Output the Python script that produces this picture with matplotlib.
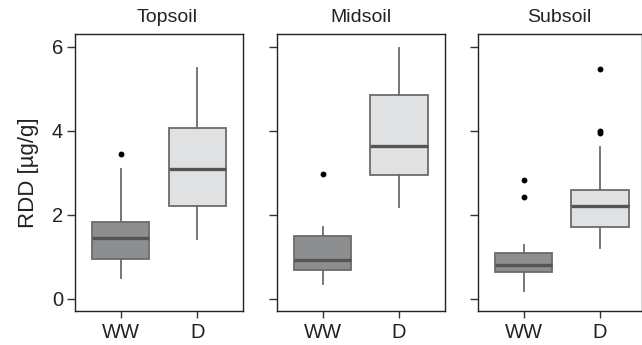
import matplotlib
matplotlib.use("Agg")
import matplotlib.pyplot as plt

plt.rcParams["font.family"] = ["Liberation Sans", "DejaVu Sans"]

panels = ["Topsoil", "Midsoil", "Subsoil"]
groups = ["WW", "D"]

# box stats per panel: [WW, D] -> (whislo, q1, med, q3, whishi)
topsoil = [(0.49, 0.94, 1.45, 1.82, 3.08), (1.42, 2.21, 3.08, 4.06, 5.49)]
midsoil = [(0.35, 0.68, 0.92, 1.49, 1.71), (2.18, 2.95, 3.64, 4.86, 5.96)]
subsoil = [(0.18, 0.64, 0.80, 1.08, 1.28), (1.20, 1.71, 2.21, 2.60, 3.62)]

topsoil_out = [[3.45], []]
midsoil_out = [[2.96], []]
subsoil_out = [[2.43, 2.83], [3.94, 4.00, 5.46]]

stats_all = [topsoil, midsoil, subsoil]
outs_all = [topsoil_out, midsoil_out, subsoil_out]

fills = ["#8d8e90", "#e0e1e3"]
edge = "#6b6b6b"

W, H = 642, 345
fig = plt.figure(figsize=(W / 100, H / 100), dpi=100)

lefts = [75, 276.7, 477.7]
widths = [168, 168, 164]
title_x = [0.55, 0.5, 0.5]
bottom, top = 311, 34
px_per_unit = 168 / 2.2

for i, name in enumerate(panels):
    ax = fig.add_axes([lefts[i] / W, 1 - bottom / H, widths[i] / W, (bottom - top) / H])
    bstats = []
    for j, g in enumerate(groups):
        lo, q1, med, q3, hi = stats_all[i][j]
        bstats.append(dict(label=g, whislo=lo, q1=q1, med=med, q3=q3, whishi=hi,
                           fliers=outs_all[i][j]))
    bp = ax.bxp(bstats, positions=[1, 2], widths=0.75, patch_artist=True,
                showcaps=False,
                boxprops=dict(edgecolor=edge, linewidth=1.3),
                whiskerprops=dict(color=edge, linewidth=1.3),
                medianprops=dict(color="#555555", linewidth=2.4),
                flierprops=dict(marker="o", markerfacecolor="black",
                                markeredgecolor="black", markersize=3.2))
    for patch, c in zip(bp["boxes"], fills):
        patch.set_facecolor(c)

    ax.set_xlim(0.4, 0.4 + widths[i] / px_per_unit)
    ax.set_ylim(-0.29, 6.30)
    ax.set_yticks([0, 2, 4, 6])
    ax.set_xticks([1, 2])
    ax.set_xticklabels(groups)
    ax.tick_params(axis="both", direction="out", width=1, color="#333333",
                   labelsize=14.5, labelcolor="#222222")
    ax.tick_params(axis="y", length=6, pad=2.5)
    ax.tick_params(axis="x", length=5, pad=4)
    if i > 0:
        ax.set_yticklabels([])
    else:
        ax.set_ylabel("RDD [µg/g]", fontsize=16, color="#222222", labelpad=9)
    for sp in ax.spines.values():
        sp.set_color("#222222")
        sp.set_linewidth(1)
    ax.set_title(name, fontsize=14, color="#222222", pad=9, x=title_x[i])

fig.savefig("out.png", dpi=100)
